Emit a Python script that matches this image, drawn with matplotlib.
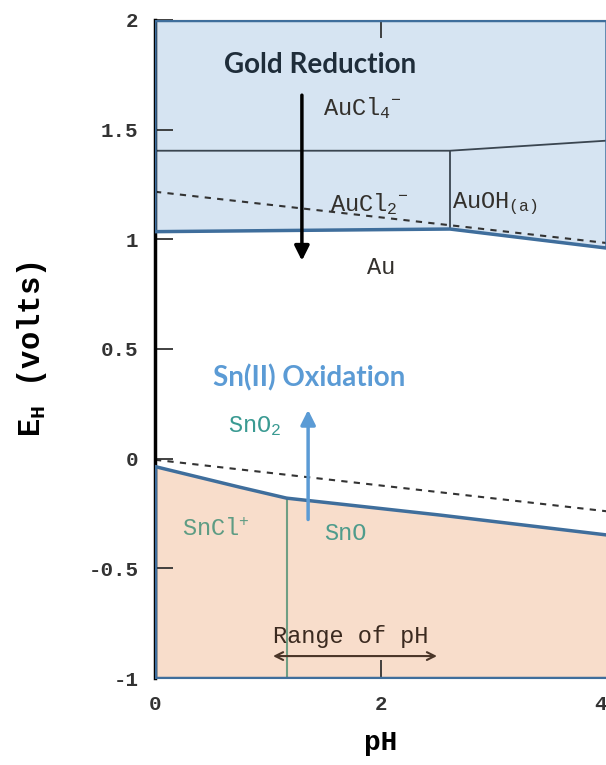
import numpy as np
import matplotlib.pyplot as plt

# Au boundary (lower edge of the blue gold field)
ph_au = [0.0, 2.61, 4.0]
e_au = [1.035, 1.047, 0.96]
# AuCl4- / AuCl2- , AuOH boundary
ph_aucl4 = [0.0, 2.61, 4.0]
e_aucl4 = [1.404, 1.404, 1.45]
# Sn field upper boundary
ph_sn = [0.0, 0.75, 1.165, 2.52, 4.0]
e_sn = [-0.036, -0.13, -0.18, -0.257, -0.348]
# water stability lines
ph_w = [0.0, 4.0]
e_o2 = [1.217, 0.983]
e_h2 = [-0.005, -0.24]
# vertical boundaries
ph_auoh = 2.61
ph_sncl = 1.165

xticks = [0, 2, 4]
yticks = [-1, -0.5, 0, 0.5, 1, 1.5, 2]

blue_fill = '#d6e4f2'
peach_fill = '#f8ddcb'
edge = '#3f6e9c'
mono = 'Liberation Mono'

plt.rcParams['mathtext.fontset'] = 'custom'
plt.rcParams['mathtext.rm'] = 'Liberation Mono'
plt.rcParams['mathtext.it'] = 'Liberation Mono'
plt.rcParams['mathtext.bf'] = 'Liberation Mono:bold'

fig = plt.figure(figsize=(6.06, 7.65), dpi=100)
ax = fig.add_axes([155 / 606, 87 / 765, 452 / 606, 658 / 765])
ax.set_xlim(0, 4)
ax.set_ylim(-1, 2)

# gold region
ax.fill_between(ph_au, e_au, 2, color=blue_fill, zorder=1)
ax.plot([0, 0] + ph_au + [4], [2, e_au[0]] + e_au + [2], color=edge, lw=2.5, zorder=3)
ax.plot([0, 4], [2, 2], color=edge, lw=2.5, zorder=3)
ax.plot(ph_aucl4, e_aucl4, color='#3a4550', lw=1.3, zorder=2)
ax.plot([ph_auoh, ph_auoh], [np.interp(ph_auoh, ph_au, e_au), np.interp(ph_auoh, ph_aucl4, e_aucl4)],
        color='#3a4550', lw=1.3, zorder=2)

# tin region
ax.fill_between(ph_sn, -1, e_sn, color=peach_fill, zorder=1)
ax.plot(ph_sn, e_sn, color=edge, lw=2.5, zorder=3)
ax.plot([0, 0], [-1, e_sn[0]], color=edge, lw=2.5, zorder=3)
ax.plot([0, 4], [-1, -1], color=edge, lw=2.5, zorder=3)
ax.plot([ph_sncl, ph_sncl], [-1, np.interp(ph_sncl, ph_sn, e_sn)], color='#6f9e84', lw=1.5, zorder=2)

# water lines
ax.plot(ph_w, e_o2, color='#333333', lw=1.5, ls=(0, (3, 3)), zorder=2)
ax.plot(ph_w, e_h2, color='#333333', lw=1.5, ls=(0, (3, 3)), zorder=2)

# arrows
ax.annotate('', xy=(1.30, 0.89), xytext=(1.30, 1.67),
            arrowprops=dict(arrowstyle='-|>', color='black', lw=2.5, mutation_scale=22), zorder=4)
ax.annotate('', xy=(1.355, 0.235), xytext=(1.355, -0.29),
            arrowprops=dict(arrowstyle='-|>', color='#5b9bd5', lw=2.5, mutation_scale=22), zorder=4)
ax.annotate('', xy=(1.02, -0.90), xytext=(2.52, -0.90),
            arrowprops=dict(arrowstyle='<->', color='#4a3528', lw=1.5, mutation_scale=14), zorder=4)

# annotations
ax.text(1.46, 1.795, 'Gold Reduction', fontsize=20, fontweight='bold', family='Lato',
        color='#1f2d3a', ha='center', va='center', zorder=5)
ax.text(1.36, 0.37, 'Sn(II) Oxidation', fontsize=20, fontweight='bold', family='Lato',
        color='#5b9bd5', ha='center', va='center', zorder=5)

lab = dict(fontsize=17, family=mono, va='center')
ax.text(1.49, 1.6, r'AuCl$_4$$^{-}$', color='#33302c', **lab)
ax.text(1.55, 1.16, r'AuCl$_2$$^{-}$', color='#33302c', **lab)
ax.text(2.63, 1.16, r'AuOH$_{\mathrm{(a)}}$', color='#33302c', **lab)
ax.text(1.88, 0.87, 'Au', color='#33302c', **lab)
ax.text(0.65, 0.15, r'SnO$_2$', color='#3a9a92', **lab)
ax.text(0.24, -0.325, r'SnCl$^{+}$', color='#5e9c84', **lab)
ax.text(1.5, -0.34, 'SnO', color='#4f9c8c', **lab)
ax.text(1.04, -0.81, 'Range of pH', color='#3b2a20', **lab)

ax.set_xticks(xticks)
ax.set_xticklabels([str(t) for t in xticks])
ax.set_yticks(yticks)
ax.set_yticklabels(['-1', '-0.5', '0', '0.5', '1', '1.5', '2'])
ax.tick_params(direction='in', length=13, width=1.3, color='#333333', labelsize=15,
               labelcolor='#333333', top=True, right=False, pad=12)
for t in ax.get_xticklabels() + ax.get_yticklabels():
    t.set_family(mono)
    t.set_fontweight('bold')
ax.get_xticklabels()[-1].set_horizontalalignment('right')

ax.spines['right'].set_visible(False)
ax.spines['left'].set_linewidth(2.5)
ax.spines['left'].set_color('black')
ax.spines['top'].set_color('#333333')
ax.spines['bottom'].set_color(edge)

ax.set_xlabel('pH', fontsize=20, fontweight='bold', family=mono, labelpad=12)
ax.set_ylabel(r'E$_\mathbf{H}$ (volts)', fontsize=22, fontweight='bold', family=mono, labelpad=28)

fig.savefig('out.png', dpi=100)
